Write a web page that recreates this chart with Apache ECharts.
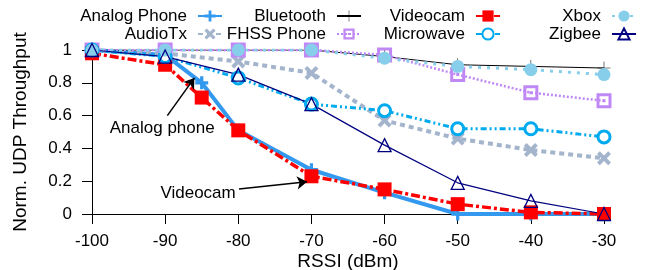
<!DOCTYPE html>
<html>
<head>
<meta charset="utf-8">
<script src="https://cdn.jsdelivr.net/npm/echarts@6/dist/echarts.min.js"></script>
<style>
  html, body { margin: 0; padding: 0; background: #fff; }
  #chart { width: 647px; height: 270px; }
</style>
</head>
<body>
<div id="chart"></div>
<script>
// RSSI sample points
var rssi = [-100, -90, -80, -70, -60, -50, -40, -30];
var rssiDense = [-100, -90, -85, -80, -70, -60, -50, -40, -30];

// normalized UDP throughput per interferer
var analogPhone = [1.0, 0.97, 0.80, 0.51, 0.27, 0.13, 0.0, 0.0, 0.0];
var videocam = [0.98, 0.91, 0.71, 0.51, 0.23, 0.15, 0.06, 0.01, 0.0];
var audioTx = [1.0, 0.98, 0.93, 0.86, 0.57, 0.46, 0.39, 0.34];
var bluetooth = [1.0, 1.0, 1.0, 1.0, 0.96, 0.91, 0.90, 0.89];
var fhssPhone = [1.0, 1.0, 1.0, 1.0, 0.97, 0.85, 0.74, 0.69];
var microwave = [1.0, 0.96, 0.83, 0.67, 0.63, 0.52, 0.52, 0.47];
var xbox = [1.0, 1.0, 1.0, 1.0, 0.95, 0.90, 0.88, 0.85];
var zigbee = [1.0, 0.96, 0.85, 0.67, 0.42, 0.19, 0.08, 0.0];

var yTicks = [0, 0.2, 0.4, 0.6, 0.8, 1];

// annotation anchors (data coords)
var analogArrow = [[-89.7, 0.60], [-86.0, 0.83]];
var analogText = [-90.4, 0.524];
var videoArrow = [[-79.9, 0.152], [-70.6, 0.197]];
var videoText = [-85.5, 0.128];

var FONT = 'Liberation Sans, Arial, sans-serif';

function pairs(xs, ys) {
  return xs.map(function (x, i) { return [x, ys[i]]; });
}

var plusThick = 'path://M0,3.75h10v2.5h-10z M3.75,0h2.5v10h-2.5z';
var plusThin = 'path://M0,11.5h24v1h-24z M11.5,0h1v24h-1z';
var cross = 'path://M2,0L5,3L8,0L10,2L7,5L10,8L8,10L5,7L2,10L0,8L3,5L0,2Z';
var dotSquare = 'path://M0,0h10v10h-10z M2,2v6h6v-6z M4,4h2v2h-2z';

var chart = echarts.init(document.getElementById('chart'));

function legendAt(name, right, top) {
  return {
    data: [name],
    right: right,
    top: top,
    align: 'right',
    padding: 0,
    itemWidth: 24,
    itemHeight: 14,
    selectedMode: false,
    textStyle: { fontSize: 17, fontFamily: FONT, color: '#000', padding: [0, 6, 0, 0], lineHeight: 18 }
  };
}

var option = {
  animation: false,
  textStyle: { fontFamily: FONT },
  legend: [
    legendAt('Analog Phone', 424, 7),
    legendAt('Bluetooth', 285, 7),
    legendAt('Videocam', 146, 7),
    legendAt('Xbox', 10, 7),
    legendAt('AudioTx', 424, 25),
    legendAt('FHSS Phone', 285, 25),
    legendAt('Microwave', 146, 25),
    legendAt('Zigbee', 10, 25)
  ],
  grid: {
    left: 92,
    right: 43,
    top: 50,
    bottom: 56,
    outerBoundsMode: 'none',
    containLabel: false
  },
  xAxis: {
    type: 'value',
    min: -100,
    max: -30,
    interval: 10,
    name: 'RSSI (dBm)',
    nameLocation: 'middle',
    nameGap: 38,
    nameMoveOverlap: false,
    nameTextStyle: { fontSize: 19, color: '#000', fontFamily: FONT },
    axisLine: { lineStyle: { color: '#000', width: 1 } },
    axisTick: { inside: false, length: 10, lineStyle: { color: '#000' } },
    axisLabel: { fontSize: 17, color: '#000', margin: 19, fontFamily: FONT },
    splitLine: { show: false }
  },
  yAxis: {
    type: 'value',
    min: 0,
    max: 1,
    interval: 0.2,
    name: 'Norm. UDP Throughput',
    nameLocation: 'middle',
    nameGap: 62,
    nameMoveOverlap: false,
    nameTextStyle: { fontSize: 19, color: '#000', fontFamily: FONT },
    axisLine: { show: true, lineStyle: { color: '#000', width: 1 } },
    axisTick: { show: true, inside: false, length: 10, lineStyle: { color: '#000' } },
    axisLabel: {
      fontSize: 17, color: '#000', margin: 20, fontFamily: FONT,
      formatter: function (v) { return yTicks.indexOf(v) >= 0 ? String(v) : ''; }
    },
    splitLine: { show: false }
  },
  series: [
    {
      name: 'Analog Phone',
      type: 'line',
      data: pairs(rssiDense, analogPhone),
      symbol: plusThick,
      symbolSize: 13,
      itemStyle: { color: '#3399ee' },
      lineStyle: { color: '#3399ee', width: 4 },
      markLine: {
        silent: true,
        symbol: ['none', 'arrow'],
        symbolSize: 10,
        label: { show: false },
        lineStyle: { color: '#000', width: 1.5, type: 'solid' },
        data: [[{ coord: analogArrow[0] }, { coord: analogArrow[1] }]]
      },
      markPoint: {
        silent: true,
        symbol: 'rect',
        symbolSize: 1,
        itemStyle: { color: 'rgba(0,0,0,0)' },
        label: { show: true, position: 'inside', formatter: 'Analog phone', color: '#000', fontSize: 17, fontFamily: FONT },
        data: [{ coord: analogText }]
      }
    },
    {
      name: 'AudioTx',
      type: 'line',
      data: pairs(rssi, audioTx),
      symbol: cross,
      symbolSize: 14,
      itemStyle: { color: '#a3b4cc' },
      lineStyle: { color: '#a3b4cc', width: 4, type: [5, 4] }
    },
    {
      name: 'Bluetooth',
      type: 'line',
      data: pairs(rssi, bluetooth),
      symbol: plusThin,
      symbolSize: 13,
      itemStyle: { color: '#000' },
      lineStyle: { color: '#000', width: 1 }
    },
    {
      name: 'FHSS Phone',
      type: 'line',
      data: pairs(rssi, fhssPhone),
      symbol: dotSquare,
      symbolSize: 15,
      itemStyle: { color: '#bf88f5' },
      lineStyle: { color: '#bf88f5', width: 2.5, type: [2, 2] }
    },
    {
      name: 'Videocam',
      type: 'line',
      data: pairs(rssiDense, videocam),
      symbol: 'rect',
      symbolSize: 14,
      itemStyle: { color: '#ff0000' },
      lineStyle: { color: '#ff0000', width: 3.5, type: [9, 3, 3, 3] },
      markLine: {
        silent: true,
        symbol: ['none', 'arrow'],
        symbolSize: 10,
        label: { show: false },
        lineStyle: { color: '#000', width: 1.5, type: 'solid' },
        data: [[{ coord: videoArrow[0] }, { coord: videoArrow[1] }]]
      },
      markPoint: {
        silent: true,
        symbol: 'rect',
        symbolSize: 1,
        itemStyle: { color: 'rgba(0,0,0,0)' },
        label: { show: true, position: 'inside', formatter: 'Videocam', color: '#000', fontSize: 17, fontFamily: FONT },
        data: [{ coord: videoText }]
      }
    },
    {
      name: 'Microwave',
      type: 'line',
      data: pairs(rssi, microwave),
      symbol: 'circle',
      symbolSize: 12,
      itemStyle: { color: '#fff', borderColor: '#00aaee', borderWidth: 3 },
      lineStyle: { color: '#00aaee', width: 3, type: [6, 3, 2, 3, 2, 3] }
    },
    {
      name: 'Xbox',
      type: 'line',
      data: pairs(rssi, xbox),
      symbol: 'circle',
      symbolSize: 13,
      itemStyle: { color: '#87ceeb' },
      lineStyle: { color: '#87ceeb', width: 3, type: [3, 6] }
    },
    {
      name: 'Zigbee',
      type: 'line',
      data: pairs(rssi, zigbee),
      symbol: 'triangle',
      symbolSize: 13,
      itemStyle: { color: 'rgba(255,255,255,0)', borderColor: '#000080', borderWidth: 1.3 },
      lineStyle: { color: '#000080', width: 1.2 }
    }
  ]
};

chart.setOption(option);
</script>
</body>
</html>
